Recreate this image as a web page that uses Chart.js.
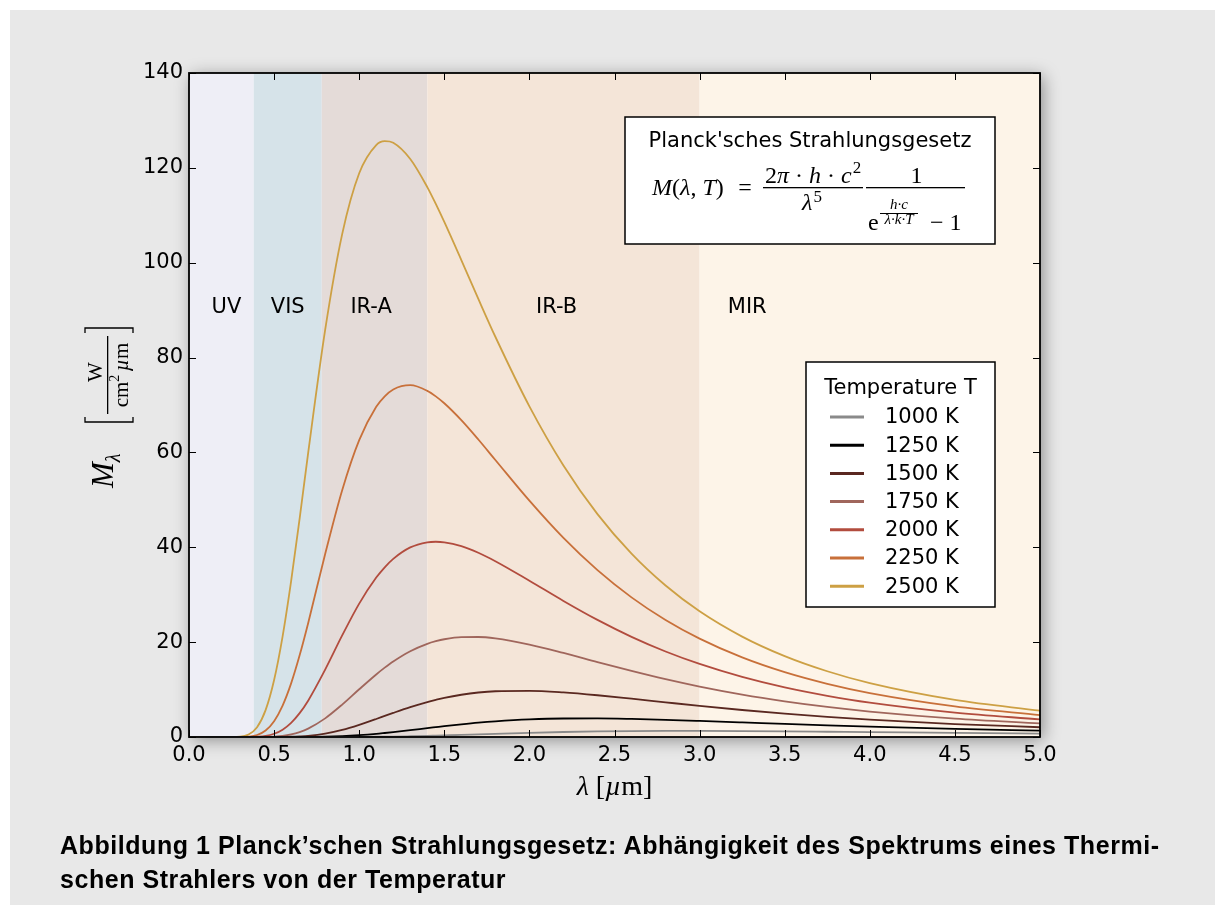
<!DOCTYPE html>
<html>
<head>
<meta charset="utf-8">
<script src="https://cdn.jsdelivr.net/npm/chart.js@4.4.1/dist/chart.umd.min.js"></script>
<style>
  body { margin: 0; background: #fff; }
  #panel { position: absolute; left: 10px; top: 10px; width: 1205px; height: 895px; background: #e8e8e8; }
  #chart { position: absolute; left: 0; top: 0; }
  #caption { position: absolute; left: 60px; top: 828px; font: bold 25px "Liberation Sans", Arial, sans-serif; letter-spacing: 0.55px; line-height: 34px; color: #000; white-space: nowrap; }
</style>
</head>
<body>
<div id="panel"></div>
<canvas id="chart" width="1215" height="905"></canvas>
<div id="caption">Abbildung 1 Planck’schen Strahlungsgesetz: Abhängigkeit des Spektrums eines Thermi-<br>schen Strahlers von der Temperatur</div>
<script>
// wavelength in µm, exitance in W/(cm² µm)
const wavelength = [0, 0.2, 0.3, 0.35, 0.4, 0.45, 0.5, 0.55, 0.6, 0.65,
  0.7, 0.8, 0.9, 1.0, 1.1, 1.15, 1.2, 1.3, 1.4, 1.45,
  1.5, 1.6, 1.7, 1.8, 2.0, 2.2, 2.4, 2.6, 2.8, 3.0,
  3.25, 3.5, 3.75, 4.0, 4.5, 5.0];

const m1000 = [0, 0, 0, 0, 0, 0, 0, 0, 0, 0,
  0, 0, 0.01, 0.02, 0.05, 0.07, 0.09, 0.16, 0.24, 0.29,
  0.34, 0.44, 0.56, 0.67, 0.88, 1.05, 1.17, 1.25, 1.28, 1.28,
  1.25, 1.19, 1.11, 1.03, 0.86, 0.71];
const m1250 = [0, 0, 0, 0, 0, 0, 0, 0, 0, 0.01,
  0.02, 0.06, 0.18, 0.38, 0.66, 0.84, 1.03, 1.44, 1.87, 2.08,
  2.29, 2.68, 3.03, 3.31, 3.71, 3.90, 3.92, 3.81, 3.62, 3.39,
  3.08, 2.76, 2.46, 2.18, 1.70, 1.33];
const m1500 = [0, 0, 0, 0, 0, 0, 0.01, 0.02, 0.05, 0.13,
  0.25, 0.71, 1.49, 2.56, 3.79, 4.44, 5.08, 6.30, 7.37, 7.83,
  8.25, 8.91, 9.38, 9.65, 9.74, 9.40, 8.80, 8.07, 7.31, 6.56,
  5.69, 4.92, 4.24, 3.65, 2.73, 2.06];
const m1750 = [0, 0, 0, 0, 0, 0.02, 0.09, 0.24, 0.54, 1.04,
  1.77, 3.93, 6.83, 10.06, 13.19, 14.62, 15.93, 18.09, 19.64, 20.19,
  20.61, 21.06, 21.08, 20.78, 19.49, 17.72, 15.80, 13.92, 12.18, 10.62,
  8.93, 7.52, 6.34, 5.37, 3.89, 2.87];
const m2000 = [0, 0, 0, 0.01, 0.06, 0.23, 0.68, 1.55, 2.99, 5.03,
  7.66, 14.20, 21.41, 28.13, 33.61, 35.78, 37.56, 39.97, 41.05, 41.17,
  41.05, 40.24, 38.85, 37.07, 32.95, 28.69, 24.69, 21.12, 18.03, 15.40,
  12.67, 10.46, 8.69, 7.25, 5.14, 3.72];
const m2250 = [0, 0, 0.01, 0.08, 0.42, 1.37, 3.34, 6.63, 11.31, 17.22,
  24.00, 38.58, 52.05, 62.61, 69.62, 71.83, 73.28, 74.17, 72.99, 71.82,
  70.36, 66.80, 62.72, 58.41, 49.83, 41.98, 35.18, 29.44, 24.67, 20.73,
  16.77, 13.66, 11.21, 9.26, 6.46, 4.62];
const m2500 = [0, 0, 0.07, 0.52, 2.06, 5.66, 12.01, 21.22, 32.85, 46.05,
  59.85, 85.83, 106.03, 118.86, 124.81, 125.63, 125.29, 121.87, 115.95, 112.40,
  108.59, 100.56, 92.37, 84.39, 69.72, 57.25, 46.99, 38.65, 31.93, 26.50,
  21.17, 17.05, 13.86, 11.36, 7.82, 5.54];

const temperatures = ['1000 K', '1250 K', '1500 K', '1750 K', '2000 K', '2250 K', '2500 K'];
const series = [m1000, m1250, m1500, m1750, m2000, m2250, m2500];
const lineColors = ['#8a8a8a', '#000000', '#5a2820', '#a0665c', '#b24c3e', '#c8703a', '#cda044'];

// spectral bands (µm)
const bandEdges = [0, 0.38, 0.78, 1.4, 3.0, 5.0];
const bandNames = ['UV', 'VIS', 'IR-A', 'IR-B', 'MIR'];
const bandLabelX = [0.22, 0.58, 1.07, 2.16, 3.28];
const bandLabelY = 90.5;
const bandColors = ['#eeeef6', '#d6e3e9', '#e4dbd8', '#f4e5d8', '#fdf4e8'];

const xMin = 0, xMax = 5, xStep = 0.5;
const yMin = 0, yMax = 140, yStep = 20;

const sans = '"DejaVu Sans", sans-serif';
const serif = '"Liberation Serif", "DejaVu Serif", serif';

function txt(ctx, s, x, y, font, align) {
  ctx.font = font;
  ctx.textAlign = align || 'left';
  ctx.fillText(s, x, y);
  return ctx.measureText(s).width;
}

const decor = {
  id: 'decor',
  beforeDraw(chart) {
    const ctx = chart.ctx, ca = chart.chartArea, xs = chart.scales.x;
    ctx.save();
    // soft shadow behind the axes box
    ctx.shadowColor = 'rgba(0,0,0,0.4)';
    ctx.shadowBlur = 16;
    ctx.shadowOffsetX = 3;
    ctx.shadowOffsetY = 3;
    ctx.fillStyle = '#fff';
    ctx.fillRect(ca.left, ca.top, ca.width, ca.height);
    ctx.restore();
    ctx.save();
    for (let i = 0; i < bandNames.length; i++) {
      const a = xs.getPixelForValue(bandEdges[i]);
      const b = xs.getPixelForValue(bandEdges[i + 1]);
      ctx.fillStyle = bandColors[i];
      ctx.fillRect(a, ca.top, b - a, ca.height);
    }
    ctx.restore();
  },
  afterDatasetsDraw(chart) {
    const ctx = chart.ctx, ca = chart.chartArea, xs = chart.scales.x, ys = chart.scales.y;
    ctx.save();
    ctx.fillStyle = '#000';
    ctx.textBaseline = 'middle';
    for (let i = 0; i < bandNames.length; i++) {
      txt(ctx, bandNames[i], xs.getPixelForValue(bandLabelX[i]), ys.getPixelForValue(bandLabelY), '21px ' + sans, 'center');
    }

    // frame and inward ticks
    ctx.strokeStyle = '#000';
    ctx.lineWidth = 1.8;
    ctx.strokeRect(ca.left, ca.top, ca.width, ca.height);
    ctx.lineWidth = 1;
    ctx.beginPath();
    xs.ticks.forEach(t => {
      const p = Math.round(xs.getPixelForValue(t.value)) + 0.5;
      ctx.moveTo(p, ca.bottom); ctx.lineTo(p, ca.bottom - 7);
      ctx.moveTo(p, ca.top); ctx.lineTo(p, ca.top + 7);
    });
    ys.ticks.forEach(t => {
      const p = Math.round(ys.getPixelForValue(t.value)) + 0.5;
      ctx.moveTo(ca.left, p); ctx.lineTo(ca.left + 7, p);
      ctx.moveTo(ca.right, p); ctx.lineTo(ca.right - 7, p);
    });
    ctx.stroke();

    // formula box
    const bx = ca.right - 415, by = ca.top + 44;
    ctx.fillStyle = '#fff';
    ctx.fillRect(bx, by, 370, 127);
    ctx.lineWidth = 1.5;
    ctx.strokeRect(bx, by, 370, 127);
    ctx.fillStyle = '#000';
    ctx.textBaseline = 'alphabetic';
    txt(ctx, 'Planck\'sches Strahlungsgesetz', bx + 185, by + 30, '21px ' + sans, 'center');
    let x = bx + 27;
    const yb = by + 78;
    x += txt(ctx, 'M', x, yb, 'italic 24px ' + serif);
    x += txt(ctx, '(', x, yb, '24px ' + serif);
    x += txt(ctx, 'λ', x, yb, 'italic 24px ' + serif);
    x += txt(ctx, ', ', x, yb, '24px ' + serif);
    x += txt(ctx, 'T', x, yb, 'italic 24px ' + serif);
    x += txt(ctx, ')', x, yb, '24px ' + serif);
    txt(ctx, '=', bx + 120, yb, '24px ' + serif, 'center');
    // first fraction
    const f1 = bx + 138, f1w = 100;
    ctx.fillRect(f1, by + 70, f1w, 1.3);
    let nx = f1 + 2;
    const ny = by + 66;
    nx += txt(ctx, '2', nx, ny, '24px ' + serif);
    nx += txt(ctx, 'π', nx, ny, 'italic 24px ' + serif);
    nx += txt(ctx, ' · ', nx, ny, '24px ' + serif);
    nx += txt(ctx, 'h', nx, ny, 'italic 24px ' + serif);
    nx += txt(ctx, ' · ', nx, ny, '24px ' + serif);
    nx += txt(ctx, 'c', nx, ny, 'italic 24px ' + serif);
    txt(ctx, '2', nx + 1, ny - 10, '17px ' + serif);
    let dx = f1 + f1w / 2 - 11;
    dx += txt(ctx, 'λ', dx, by + 93, 'italic 24px ' + serif);
    txt(ctx, '5', dx + 1, by + 85, '17px ' + serif);
    // second fraction
    const f2 = bx + 241, f2w = 99;
    ctx.fillRect(f2, by + 70, f2w, 1.3);
    txt(ctx, '1', f2 + f2w / 2 + 1, ny, '24px ' + serif, 'center');
    const eb = by + 113;
    txt(ctx, 'e', f2 + 2, eb, '24px ' + serif);
    ctx.fillRect(f2 + 14, by + 96, 38, 1);
    txt(ctx, 'h·c', f2 + 33, by + 92, 'italic 15px ' + serif, 'center');
    txt(ctx, 'λ·k·T', f2 + 33, by + 107, 'italic 15px ' + serif, 'center');
    txt(ctx, '− 1', f2 + 64, eb, '24px ' + serif);

    // legend box
    const lx = ca.right - 234, ly = ca.top + 289, lw = 189, lh = 245;
    ctx.fillStyle = '#fff';
    ctx.fillRect(lx, ly, lw, lh);
    ctx.strokeStyle = '#000';
    ctx.lineWidth = 1.5;
    ctx.strokeRect(lx, ly, lw, lh);
    ctx.fillStyle = '#000';
    txt(ctx, 'Temperature T', lx + lw / 2, ly + 32, '21px ' + sans, 'center');
    ctx.textBaseline = 'middle';
    chart.data.datasets.forEach((ds, i) => {
      const yy = ly + 55 + i * 28.2;
      ctx.strokeStyle = ds.borderColor;
      ctx.lineWidth = 3;
      ctx.beginPath();
      ctx.moveTo(lx + 24, yy); ctx.lineTo(lx + 58, yy);
      ctx.stroke();
      ctx.fillStyle = '#000';
      txt(ctx, ds.label, lx + 79, yy + 1, '21px ' + sans);
    });
    ctx.restore();
  },
  afterDraw(chart) {
    const ctx = chart.ctx, ca = chart.chartArea;
    ctx.save();
    ctx.fillStyle = '#000';
    ctx.strokeStyle = '#000';
    ctx.textBaseline = 'alphabetic';
    // x axis title: λ [µm]
    ctx.font = 'italic 28px ' + serif;
    const w1 = ctx.measureText('λ ').width;
    ctx.font = '28px ' + serif;
    const w2 = ctx.measureText('[').width;
    ctx.font = 'italic 28px ' + serif;
    const w3 = ctx.measureText('µ').width;
    ctx.font = '28px ' + serif;
    const w4 = ctx.measureText('m]').width;
    let x = (ca.left + ca.right) / 2 - (w1 + w2 + w3 + w4) / 2;
    const yb = ca.bottom + 58;
    x += txt(ctx, 'λ ', x, yb, 'italic 28px ' + serif);
    x += txt(ctx, '[', x, yb, '28px ' + serif);
    x += txt(ctx, 'µ', x, yb, 'italic 28px ' + serif);
    txt(ctx, 'm]', x, yb, '28px ' + serif);

    // y axis title: M_λ [W / (cm² µm)]
    ctx.translate(ca.left - 76, ca.top + 415);
    ctx.rotate(-Math.PI / 2);
    let u = 0;
    u += txt(ctx, 'M', u, 0, 'italic 31px ' + serif);
    txt(ctx, 'λ', u, 7, 'italic 20px ' + serif);
    ctx.lineWidth = 1.3;
    ctx.beginPath();
    ctx.moveTo(71, -28); ctx.lineTo(66, -28); ctx.lineTo(66, 20); ctx.lineTo(71, 20);
    ctx.moveTo(155, -28); ctx.lineTo(160, -28); ctx.lineTo(160, 20); ctx.lineTo(155, 20);
    ctx.stroke();
    ctx.fillRect(74, -6, 78, 1.3);
    txt(ctx, 'W', 116, -11, '21px ' + serif, 'center');
    ctx.font = '21px ' + serif;
    const c1 = ctx.measureText('cm').width;
    ctx.font = '14px ' + serif;
    const c2 = ctx.measureText('2 ').width;
    ctx.font = 'italic 21px ' + serif;
    const c3 = ctx.measureText('µ').width;
    ctx.font = '21px ' + serif;
    const c4 = ctx.measureText('m').width;
    let v = 113 - (c1 + c2 + c3 + c4) / 2;
    v += txt(ctx, 'cm', v, 15, '21px ' + serif);
    v += txt(ctx, '2 ', v, 6, '14px ' + serif);
    v += txt(ctx, 'µ', v, 15, 'italic 21px ' + serif);
    txt(ctx, 'm', v, 15, '21px ' + serif);
    ctx.restore();
  }
};

const ctx = document.getElementById('chart').getContext('2d');

new Chart(ctx, {
  type: 'line',
  data: {
    datasets: series.map((s, i) => ({
      label: temperatures[i],
      data: wavelength.map((w, j) => ({ x: w, y: s[j] })),
      borderColor: lineColors[i],
      borderWidth: 1.8,
      pointRadius: 0,
      fill: false,
      cubicInterpolationMode: 'monotone'
    }))
  },
  options: {
    responsive: false,
    animation: false,
    layout: { padding: { left: 129, top: 73, right: 175, bottom: 0 } },
    plugins: {
      legend: { display: false },
      tooltip: { enabled: false }
    },
    scales: {
      x: {
        type: 'linear',
        min: xMin,
        max: xMax,
        grid: { display: false, drawTicks: false },
        border: { display: false },
        ticks: {
          stepSize: xStep,
          color: '#000',
          padding: 6,
          font: { family: 'DejaVu Sans', size: 21 },
          callback: v => v.toFixed(1),
          maxRotation: 0
        },
        afterFit: s => { s.height = 168; }
      },
      y: {
        min: yMin,
        max: yMax,
        grid: { display: false, drawTicks: false },
        border: { display: false },
        ticks: {
          stepSize: yStep,
          color: '#000',
          padding: 6,
          font: { family: 'DejaVu Sans', size: 21 }
        },
        afterFit: s => { s.width = 60; }
      }
    }
  },
  plugins: [decor]
});
</script>
</body>
</html>
